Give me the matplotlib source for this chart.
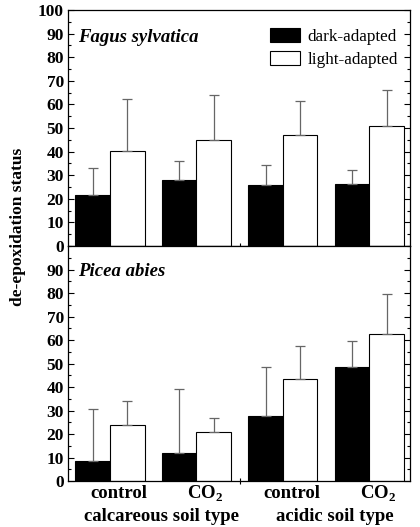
import matplotlib
matplotlib.use("Agg")
import matplotlib.pyplot as plt
import numpy as np
from matplotlib.ticker import MultipleLocator

plt.rcParams['font.family'] = ['Liberation Serif', 'DejaVu Serif']
plt.rcParams['mathtext.fontset'] = 'custom'
plt.rcParams['mathtext.rm'] = 'Liberation Serif:bold'
plt.rcParams['mathtext.bf'] = 'Liberation Serif:bold'

treatments = ["control", "CO$_2$", "control", "CO$_2$"]
soil_types = ["calcareous soil type", "acidic soil type"]
series = ["dark-adapted", "light-adapted"]

fagus_dark = [21.8, 28.2, 25.8, 26.3]
fagus_dark_err = [11.3, 7.7, 8.4, 6.0]
fagus_light = [40.4, 45.1, 46.9, 51.0]
fagus_light_err = [22.0, 19.1, 14.4, 15.0]

picea_dark = [8.5, 11.8, 27.8, 48.4]
picea_dark_err = [22.4, 27.2, 20.9, 11.4]
picea_light = [23.8, 20.8, 43.6, 62.5]
picea_light_err = [10.1, 6.2, 14.1, 17.1]

fig = plt.figure(figsize=(4.2, 5.27), dpi=100)
ax1 = fig.add_axes([0.162, 0.533, 0.814, 0.448])
ax2 = fig.add_axes([0.162, 0.087, 0.814, 0.446], sharex=ax1)

x = np.arange(len(treatments))
w = 0.4
ekw = dict(ecolor='#666666', elinewidth=0.9, capsize=3.5, capthick=0.9)

def panel(ax, dark, dark_err, light, light_err, title, show_top, ty):
    ax.bar(x - w/2, dark, w, color='black', edgecolor='black', linewidth=0.8,
           yerr=[np.zeros(4), dark_err], error_kw=ekw, label=series[0])
    ax.bar(x + w/2, light, w, color='white', edgecolor='black', linewidth=0.8,
           yerr=[np.zeros(4), light_err], error_kw=ekw, label=series[1])
    ax.set_ylim(0, 100)
    ax.set_xlim(-0.485, 3.47)
    ax.yaxis.set_major_locator(MultipleLocator(10))
    ax.yaxis.set_minor_locator(MultipleLocator(5))
    ax.tick_params(axis='y', which='both', direction='in', right=True, labelsize=12.5, pad=3)
    ax.tick_params(axis='y', which='major', length=4, width=0.8)
    ax.tick_params(axis='y', which='minor', length=2.5, width=0.8)
    ax.set_xticks([1.5])
    ax.tick_params(axis='x', direction='inout', length=5, width=0.8, labelbottom=False)
    if show_top:
        ticks = np.arange(0, 101, 10)
    else:
        ticks = np.arange(0, 91, 10)
    ax.set_yticks(ticks)
    ax.set_yticklabels([str(t) for t in ticks], fontweight='bold')
    ax.text(0.03, ty, title, transform=ax.transAxes, fontsize=13.5,
            fontstyle='italic', fontweight='bold', va='center', ha='left')
    for s in ax.spines.values():
        s.set_linewidth(0.9)

panel(ax1, fagus_dark, fagus_dark_err, fagus_light, fagus_light_err, "Fagus sylvatica", True, 0.885)
panel(ax2, picea_dark, picea_dark_err, picea_light, picea_light_err, "Picea abies", False, 0.89)

ax1.legend(loc='upper right', bbox_to_anchor=(1.0, 0.975), frameon=False, fontsize=12.3,
           handlelength=1.75, handleheight=0.9, handletextpad=0.45, labelspacing=0.35,
           borderaxespad=0.3)

for xi, t in zip(x, treatments):
    ax2.text(xi + 0.1, -7.3, t, ha='center', va='baseline', fontsize=13.5, fontweight='bold')
for i, s in enumerate(soil_types):
    ax2.text(2*i + 0.5 + 0.1, -16.8, s, ha='center', va='baseline', fontsize=13.5, fontweight='bold')

fig.text(0.043, 1 - 227/527, "de-epoxidation status", rotation=90, ha='center', va='center',
         fontsize=12.5, fontweight='bold')

fig.savefig("out.png", dpi=100)
